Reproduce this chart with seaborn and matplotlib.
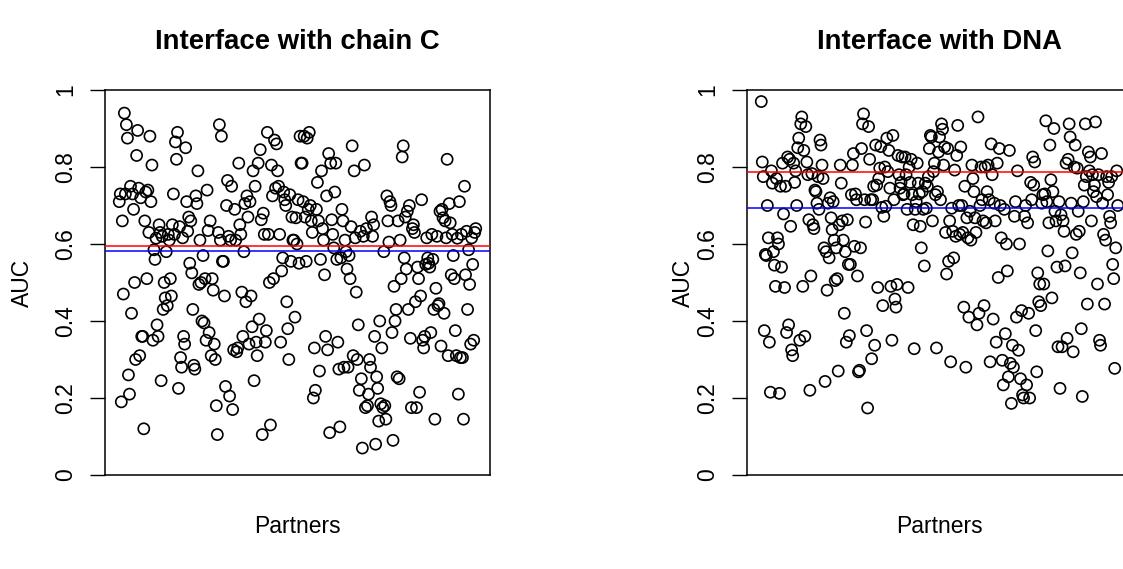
import numpy as np
import pandas as pd
import matplotlib
matplotlib.use("Agg")
import matplotlib.pyplot as plt
import seaborn as sns

titles = ["Interface with chain C", "Interface with DNA"]
x_label = "Partners"
y_label = "AUC"
y_ticks = [0, 0.2, 0.4, 0.6, 0.8, 1]
y_tick_labels = ["0", "0.2", "0.4", "0.6", "0.8", "1"]

auc_chain_c = [
    0.71, 0.73, 0.19, 0.66, 0.47, 0.94, 0.73, 0.91, 0.875, 0.26, 0.21, 0.75, 0.42, 0.73, 0.69, 0.50, 0.30, 0.83,
    0.895, 0.745, 0.31, 0.72, 0.36, 0.36, 0.12, 0.66, 0.735, 0.51, 0.74, 0.63, 0.88, 0.71, 0.805, 0.35, 0.585, 0.56,
    0.615, 0.39, 0.36, 0.65, 0.63, 0.245, 0.62, 0.43, 0.50, 0.46, 0.58, 0.44, 0.625,
    0.61, 0.51, 0.465, 0.65, 0.73, 0.625, 0.865, 0.82, 0.89, 0.225, 0.645, 0.305, 0.28, 0.616, 0.36, 0.34, 0.85, 0.71,
    0.633, 0.67, 0.55, 0.66, 0.525, 0.43, 0.285, 0.275, 0.725, 0.705, 0.79, 0.495, 0.61, 0.50, 0.40, 0.57, 0.395, 0.51,
    0.35, 0.74, 0.635, 0.37, 0.66, 0.31, 0.51, 0.48, 0.34, 0.30, 0.18, 0.105, 0.63, 0.91, 0.61, 0.88, 0.555, 0.555,
    0.465, 0.23, 0.70, 0.765, 0.62, 0.205, 0.61, 0.75, 0.17, 0.325,
    0.69, 0.61, 0.32, 0.33, 0.81, 0.65, 0.625, 0.475, 0.36, 0.58, 0.705, 0.45, 0.725, 0.67, 0.34, 0.71, 0.465, 0.385,
    0.79, 0.245, 0.75, 0.345, 0.31, 0.81, 0.405, 0.845, 0.663, 0.105, 0.68, 0.625, 0.345, 0.375, 0.89, 0.625, 0.50,
    0.13, 0.805, 0.725, 0.51, 0.87, 0.745, 0.86, 0.79, 0.75, 0.625, 0.345, 0.53, 0.564, 0.735, 0.715, 0.70, 0.45, 0.38,
    0.30, 0.728, 0.555, 0.67, 0.61, 0.61, 0.41, 0.668, 0.60, 0.715, 0.55, 0.88, 0.81,
    0.81, 0.71, 0.88, 0.67, 0.555, 0.875, 0.69, 0.89, 0.70, 0.66, 0.63, 0.20, 0.33, 0.22, 0.69, 0.76, 0.66, 0.27,
    0.56, 0.79, 0.64, 0.61, 0.52, 0.36, 0.725, 0.325, 0.835, 0.11, 0.81, 0.663, 0.625, 0.59, 0.735, 0.81, 0.56, 0.345,
    0.275, 0.125, 0.564, 0.69, 0.66, 0.28, 0.61, 0.58, 0.535, 0.28, 0.57, 0.51, 0.645, 0.855, 0.31, 0.79, 0.616, 0.475,
    0.30, 0.39, 0.22, 0.633, 0.25, 0.07, 0.62, 0.805, 0.175,
    0.64, 0.18, 0.21, 0.30, 0.28, 0.67, 0.62, 0.65, 0.36, 0.08, 0.255, 0.225, 0.14, 0.40, 0.185, 0.33, 0.175, 0.58,
    0.18, 0.145, 0.725, 0.66, 0.605, 0.71, 0.70, 0.37, 0.09, 0.49, 0.40, 0.43, 0.255, 0.66, 0.25, 0.61, 0.51, 0.826,
    0.855, 0.564, 0.67, 0.535, 0.685, 0.43, 0.70, 0.355, 0.175, 0.64, 0.65, 0.63, 0.45, 0.175, 0.54, 0.51, 0.215,
    0.465, 0.715, 0.35, 0.33, 0.36, 0.547, 0.616, 0.564, 0.55, 0.54,
    0.37, 0.625, 0.56, 0.43, 0.145, 0.485, 0.62, 0.44, 0.445, 0.685, 0.335, 0.69, 0.668, 0.42, 0.66, 0.616, 0.82,
    0.31, 0.705, 0.655, 0.52, 0.625, 0.57, 0.51, 0.375, 0.31, 0.615, 0.21, 0.71, 0.305, 0.625, 0.305, 0.145, 0.75,
    0.52, 0.633, 0.43, 0.585, 0.495, 0.34, 0.616, 0.547, 0.35, 0.63, 0.64,
]

auc_dna = [
    0.97, 0.813, 0.775, 0.375, 0.573, 0.57, 0.70, 0.616, 0.345, 0.215, 0.79, 0.758, 0.58, 0.545, 0.49,
    0.77, 0.616, 0.60, 0.212, 0.75, 0.54, 0.81, 0.678, 0.487, 0.75, 0.37, 0.826, 0.39, 0.82, 0.646, 0.325, 0.31, 0.81,
    0.76, 0.79, 0.70, 0.85, 0.875, 0.35, 0.912, 0.93, 0.49, 0.843, 0.36, 0.905, 0.813, 0.78, 0.663, 0.22, 0.517,
    0.783, 0.65, 0.64, 0.74, 0.736, 0.706, 0.775, 0.69, 0.87, 0.857, 0.805, 0.77, 0.59, 0.243, 0.58, 0.48, 0.706,
    0.564, 0.72, 0.668, 0.637, 0.71, 0.61, 0.505, 0.59, 0.51, 0.27, 0.65, 0.805,
    0.758, 0.66, 0.61, 0.42, 0.58, 0.345, 0.663, 0.547, 0.362, 0.547, 0.728, 0.805, 0.835, 0.594, 0.73, 0.715, 0.517,
    0.268, 0.272, 0.59, 0.848, 0.912, 0.938, 0.715, 0.657, 0.375, 0.174, 0.905, 0.82, 0.715, 0.302, 0.715, 0.75,
    0.337, 0.857, 0.753, 0.487, 0.77, 0.797, 0.853, 0.695, 0.44, 0.672, 0.80, 0.698, 0.875, 0.788, 0.843, 0.745,
    0.49, 0.35, 0.882, 0.715, 0.457, 0.436, 0.495, 0.83, 0.78, 0.745, 0.76, 0.826, 0.728,
    0.73, 0.826, 0.78, 0.69, 0.487, 0.80, 0.76, 0.82, 0.728, 0.65, 0.328, 0.69, 0.71, 0.81, 0.758, 0.73, 0.646, 0.59,
    0.736, 0.69, 0.543, 0.758, 0.693, 0.75, 0.775, 0.848, 0.882, 0.878, 0.66, 0.788, 0.81, 0.728, 0.33, 0.736, 0.839,
    0.878, 0.715, 0.912, 0.898, 0.805, 0.852, 0.63, 0.522, 0.848, 0.555, 0.66, 0.294, 0.693, 0.633, 0.564, 0.792,
    0.62, 0.83, 0.908, 0.70, 0.625, 0.852, 0.70, 0.63, 0.436, 0.75, 0.28, 0.668, 0.616, 0.41,
    0.685, 0.61, 0.805, 0.77, 0.736, 0.668, 0.63, 0.39, 0.93, 0.42, 0.70, 0.80, 0.715, 0.66, 0.44, 0.80, 0.655,
    0.736, 0.805, 0.715, 0.294, 0.86, 0.78, 0.405, 0.706, 0.66, 0.345, 0.81, 0.513, 0.848, 0.70, 0.616, 0.298, 0.234,
    0.69, 0.367, 0.60, 0.53, 0.255, 0.843, 0.29, 0.186, 0.337, 0.28, 0.672, 0.71, 0.41, 0.79, 0.324, 0.60, 0.25,
    0.427, 0.208, 0.2, 0.672, 0.70, 0.234, 0.655, 0.42, 0.2, 0.76, 0.715, 0.826, 0.753, 0.813, 0.375, 0.268, 0.525,
    0.45, 0.496, 0.44, 0.706,
    0.728, 0.496, 0.73, 0.92, 0.71, 0.582, 0.655, 0.857, 0.767, 0.46, 0.736, 0.90, 0.685, 0.66, 0.54, 0.333, 0.71,
    0.225, 0.676, 0.333, 0.66, 0.633, 0.543, 0.81, 0.355, 0.82, 0.912, 0.878, 0.706, 0.577, 0.32, 0.80, 0.857, 0.625,
    0.797, 0.685, 0.633, 0.525, 0.38, 0.204, 0.71, 0.753, 0.912, 0.775, 0.444, 0.839, 0.79, 0.826, 0.66, 0.78, 0.736,
    0.753, 0.917, 0.723, 0.496, 0.78, 0.35, 0.337, 0.835, 0.706, 0.625, 0.444, 0.61, 0.775, 0.728, 0.76, 0.672,
    0.655, 0.775, 0.547, 0.51, 0.277, 0.59, 0.79, 0.70,
]

red_lines = [0.594, 0.787]
blue_lines = [0.583, 0.694]

sns.set_theme(style="white")
plt.rcParams["font.family"] = ["Liberation Sans", "DejaVu Sans"]

W, H = 1123, 569
fig = plt.figure(figsize=(W / 100, H / 100), dpi=100)
fig.patch.set_facecolor("white")

boxes = [(105, 90, 385, 385), (747, 90, 385, 385)]
ylabel_x = [-0.2156, -0.166]
series = [auc_chain_c, auc_dna]

for i, vals in enumerate(series):
    x0, y0, w, h = boxes[i]
    ax = fig.add_axes([x0 / W, 1 - (y0 + h) / H, w / W, h / H])
    df = pd.DataFrame({"Partners": np.arange(1, len(vals) + 1), "AUC": vals})
    sns.scatterplot(data=df, x="Partners", y="AUC", ax=ax, marker="o", s=64,
                    facecolor="none", edgecolor="black", linewidth=1.2, legend=False, zorder=2)
    ax.axhline(red_lines[i], color="red", lw=1.1, zorder=3)
    ax.axhline(blue_lines[i], color="blue", lw=1.1, zorder=3)
    n = len(vals)
    pad = 0.04 * (n - 1)
    ax.set_xlim(1 - pad, n + pad)
    ax.set_ylim(0, 1)
    ax.set_xticks([])
    ax.set_yticks(y_ticks)
    ax.set_yticklabels(y_tick_labels, rotation=90, va="center")
    ax.tick_params(axis="y", left=True, direction="out", length=10.8, width=1.0,
                   pad=9, labelsize=16.5, color="black", labelcolor="black")
    for sp in ax.spines.values():
        sp.set_visible(True)
        sp.set_color("black")
        sp.set_linewidth(1.1)
    ax.set_xlabel(x_label, fontsize=16.5, color="black")
    ax.xaxis.set_label_coords(0.5, -0.135)
    ax.xaxis.label.set_va("center")
    ax.set_ylabel(y_label, fontsize=16.5, color="black")
    ax.yaxis.set_label_coords(ylabel_x[i], 0.5)
    ax.yaxis.label.set_va("center")
    ax.text(0.5, 1 + 48 / 385, titles[i], transform=ax.transAxes, ha="center", va="center",
            fontsize=19.8, fontweight="bold", color="black")

fig.savefig("out.png", dpi=100, facecolor="white")
